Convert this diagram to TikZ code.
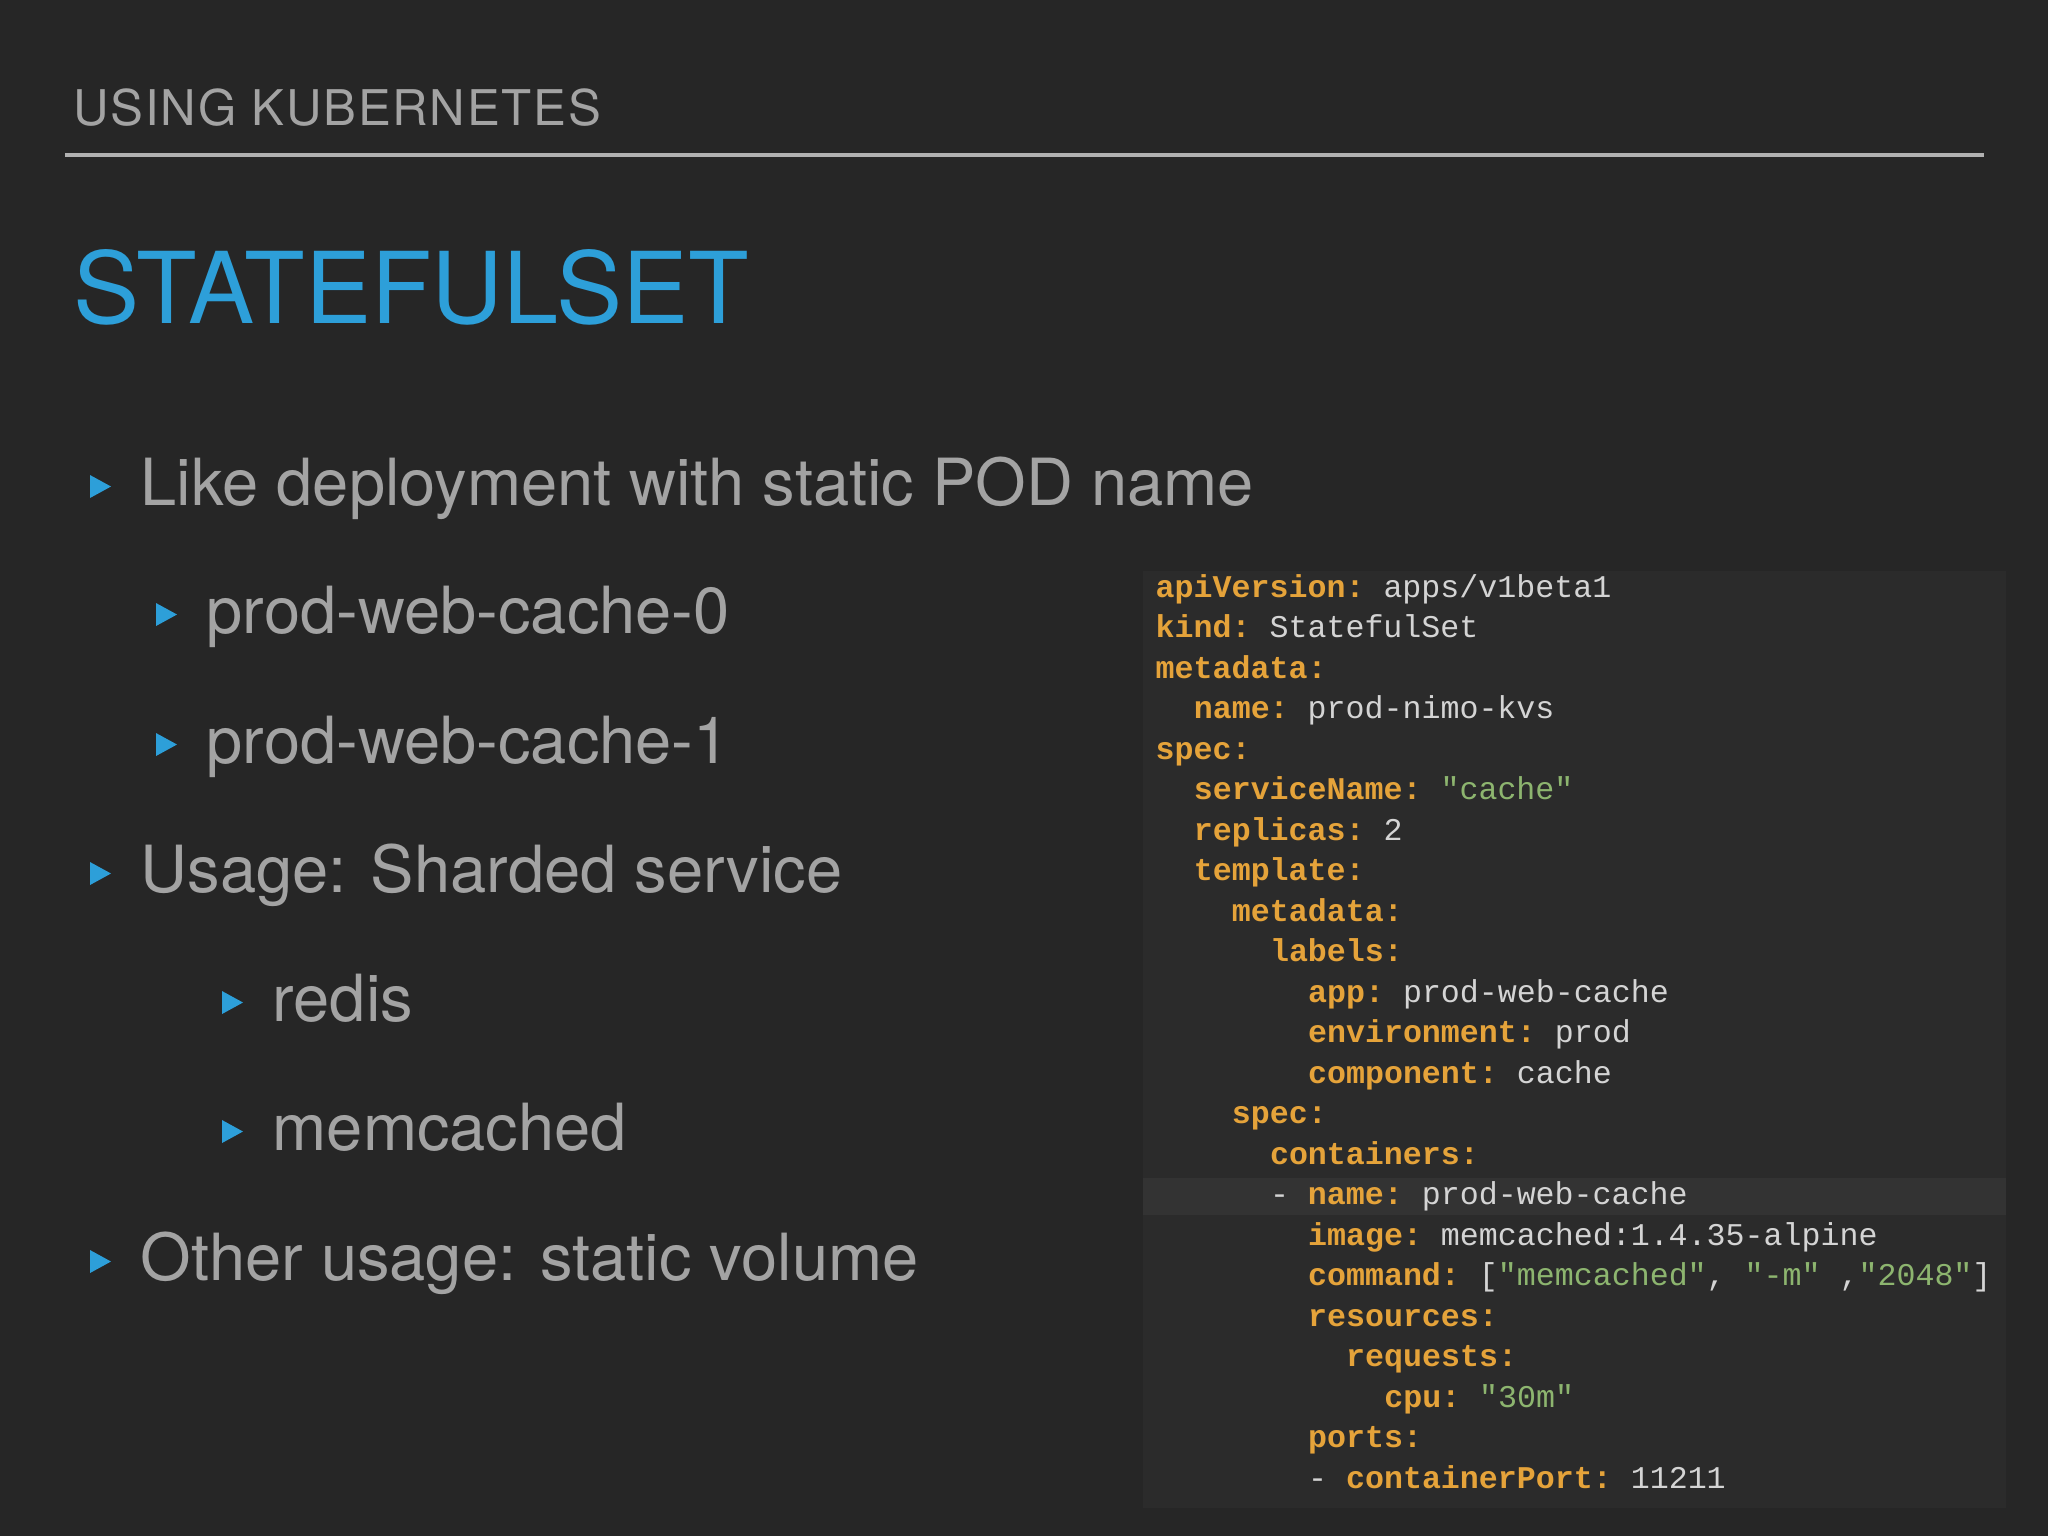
\documentclass[tikz,border=0pt]{standalone}
\usepackage{fontspec}
\setmainfont{TeX Gyre Heros}
\setmonofont{Liberation Mono}
\newfontfamily\hdrfont[LetterSpace=3.5]{TeX Gyre Heros}
\definecolor{bg}{HTML}{262626}
\definecolor{panel}{HTML}{2B2B2B}
\definecolor{hl}{HTML}{333333}
\definecolor{gtext}{HTML}{A3A3A3}
\definecolor{blu}{HTML}{2D9FD9}
\definecolor{key}{HTML}{E5A33A}
\definecolor{val}{HTML}{D4D4D4}
\definecolor{str}{HTML}{8DB56F}
\newcommand{\K}[1]{\textcolor{key}{\textbf{#1}}}
\newcommand{\V}[1]{\textcolor{val}{#1}}
\newcommand{\St}[1]{\textcolor{str}{#1}}
\begin{document}
\begin{tikzpicture}[x=0.1mm,y=-0.1mm,
  big/.style={anchor=base west,inner sep=0,text=gtext,font=\fontsize{18.5}{22}\selectfont},
  code/.style={anchor=base west,inner sep=0,font=\ttfamily\fontsize{9}{11}\selectfont}]
\fill[bg] (0,0) rectangle (2048,1536);
\useasboundingbox (0,0) rectangle (2048,1536);
\node[anchor=base west,inner sep=0,text=gtext,font=\hdrfont\fontsize{14}{16}\selectfont] (hdr) at (73,125) {USING KUBERNETES};
\draw[gtext!85,line width=0.9pt] (65,155) -- (1984,155);
\node[anchor=base west,inner sep=0,text=blu,font=\fontsize{28.2}{34}\selectfont] (ttl) at (73,323) {STATEFULSET};
% bullets
\newcommand{\tri}[2]{\fill[blu] (#1,#2-30) -- (#1+21,#2-18.5) -- (#1,#2-7) -- cycle;}
\tri{90}{505}\node[big] (b1) at (140,505) {Like deployment with static POD name};
\tri{156}{633}\node[big] (b2) at (206,633) {prod-web-cache-0};
\tri{156}{763}\node[big] (b3) at (206,763) {prod-web-cache-1};
\tri{90}{892}\node[big] (b4) at (140,892) {Usage: Sharded service};
\tri{222}{1021}\node[big] (b5) at (272,1021) {redis};
\tri{222}{1150}\node[big] (b6) at (272,1150) {memcached};
\tri{90}{1280}\node[big] (b7) at (140,1280) {Other usage: static volume};
% code panel
\fill[panel] (1143,571) rectangle (2006,1508);
\fill[hl] (1143,1178) rectangle (2006,1215);
\newcommand{\cl}[3]{\node[code] at (1155+#2*19.05,597+#1*40.5) {#3};}
\cl{0}{0}{\K{apiVersion:} \V{apps/v1beta1}}
\cl{1}{0}{\K{kind:} \V{StatefulSet}}
\cl{2}{0}{\K{metadata:}}
\cl{3}{2}{\K{name:} \V{prod-nimo-kvs}}
\cl{4}{0}{\K{spec:}}
\cl{5}{2}{\K{serviceName:} \St{"cache"}}
\cl{6}{2}{\K{replicas:} \V{2}}
\cl{7}{2}{\K{template:}}
\cl{8}{4}{\K{metadata:}}
\cl{9}{6}{\K{labels:}}
\cl{10}{8}{\K{app:} \V{prod-web-cache}}
\cl{11}{8}{\K{environment:} \V{prod}}
\cl{12}{8}{\K{component:} \V{cache}}
\cl{13}{4}{\K{spec:}}
\cl{14}{6}{\K{containers:}}
\cl{15}{6}{\V{-} \K{name:} \V{prod-web-cache}}
\cl{16}{8}{\K{image:} \V{memcached:1.4.35-alpine}}
\cl{17}{8}{\K{command:} \V{[}\St{"memcached"}\V{,} \St{"-m"} \V{,}\St{"2048"}\V{]}}
\cl{18}{8}{\K{resources:}}
\cl{19}{10}{\K{requests:}}
\cl{20}{12}{\K{cpu:} \St{"30m"}}
\cl{21}{8}{\K{ports:}}
\cl{22}{8}{\V{-} \K{containerPort:} \V{11211}}
\end{tikzpicture}
\end{document}
